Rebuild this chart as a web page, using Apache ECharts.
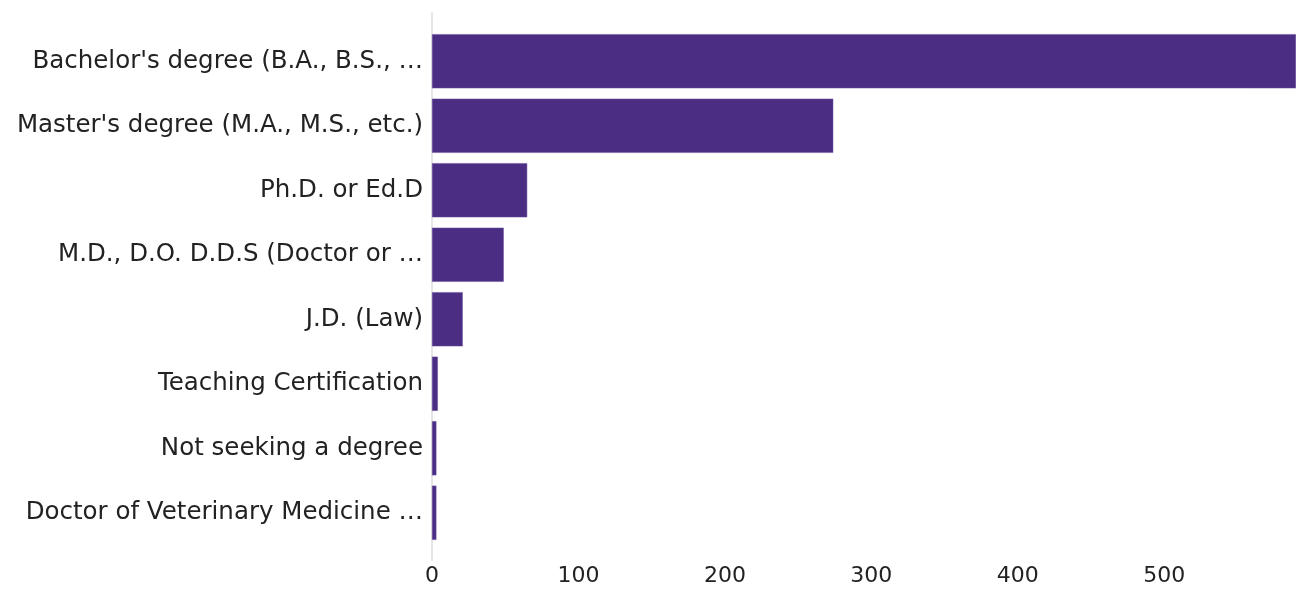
<!DOCTYPE html>
<html>
<head>
<meta charset="utf-8">
<script src="https://cdn.jsdelivr.net/npm/echarts@6/dist/echarts.min.js"></script>
<style>
  html, body { margin: 0; padding: 0; background: #fff; }
  #chart { width: 1296px; height: 589px; }
</style>
</head>
<body>
<div id="chart"></div>
<script>
const categories = [
  "Bachelor's degree (B.A., B.S., \u2026",
  "Master's degree (M.A., M.S., etc.)",
  'Ph.D. or Ed.D',
  'M.D., D.O. D.D.S (Doctor or \u2026',
  'J.D. (Law)',
  'Teaching Certification',
  'Not seeking a degree',
  'Doctor of Veterinary Medicine \u2026'
]
const counts = [590, 274, 65, 49, 21, 4, 3, 3]
const xTicks = [0, 100, 200, 300, 400, 500]

const chart = echarts.init(document.getElementById('chart'))
const font = '"DejaVu Sans", sans-serif'
chart.setOption({
  animation: false,
  grid: [
    { left: 432, right: 0, top: 29, bottom: 44, containLabel: false },
    // taller baseline strip for the zero line, which overshoots the bars
    { left: 432, right: 0, top: 13, bottom: 29, containLabel: false }
  ],
  xAxis: [{
    type: 'value',
    gridIndex: 0,
    min: 0,
    max: 'dataMax',
    interval: 100,
    axisLine: { show: false },
    axisTick: { show: false },
    splitLine: { show: false },
    axisLabel: {
      color: '#222',
      fontSize: 22,
      fontFamily: font,
      margin: 20,
      showMaxLabel: false,
      formatter: v => (xTicks.includes(v) ? String(v) : '')
    }
  }, {
    type: 'value',
    gridIndex: 1,
    show: false
  }],
  yAxis: [{
    type: 'category',
    gridIndex: 0,
    inverse: true,
    data: categories,
    axisLine: { show: false },
    axisTick: { show: false },
    axisLabel: { color: '#222', fontSize: 24.5, fontFamily: font, margin: 9, padding: [4, 0, 0, 0] }
  }, {
    type: 'value',
    gridIndex: 1,
    z: 0,
    axisLine: { show: true, lineStyle: { color: '#e6e6e6', width: 2 } },
    axisTick: { show: false },
    axisLabel: { show: false },
    splitLine: { show: false }
  }],
  series: [{
    type: 'bar',
    data: counts,
    barCategoryGap: '16%',
    z: 3,
    itemStyle: { color: '#4b2e83', borderColor: '#6a52a0', borderWidth: 0.5 }
  }]
})
</script>
</body>
</html>
